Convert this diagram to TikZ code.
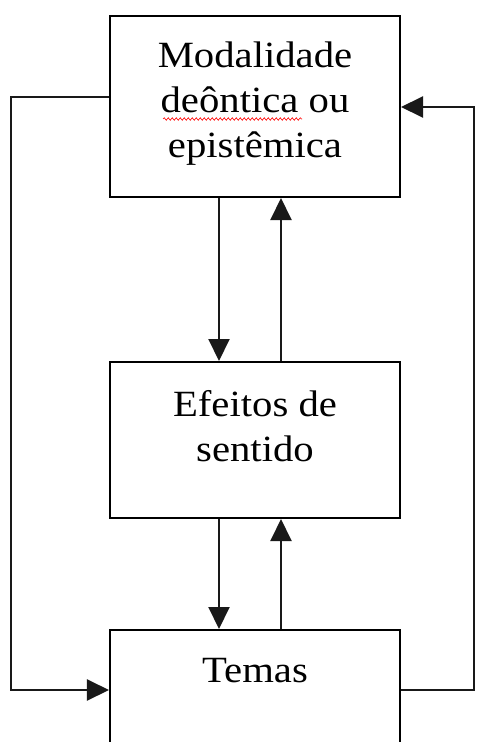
\documentclass[tikz,border=0pt]{standalone}
\usepackage{fontspec}
\setmainfont{Liberation Serif}[FakeStretch=1.1]
\usetikzlibrary{arrows.meta,decorations.pathmorphing}
\begin{document}
\begin{tikzpicture}[x=1bp,y=-1bp,
  box/.style={draw=black, line width=2bp, minimum width=290bp, inner sep=0pt, fill=white},
  lbl/.style={font=\fontsize{37bp}{45bp}\selectfont, align=center, inner sep=0pt},
  conn/.style={line width=2bp, draw=black!90},
  arr/.style={conn, -{Triangle[length=22bp,width=21bp]}}]
\useasboundingbox (0,0) rectangle (504,742);
\clip (0,0) rectangle (504,742);
\fill[white] (0,0) rectangle (504,742);
% boxes
\node[box, minimum height=181bp] (mod) at (255,106.5) {};
\node[box, minimum height=156bp] (mid) at (255,440) {};
\node[box, minimum height=140bp] (tem) at (255,700) {};
% texts
\node[lbl, anchor=north] (modt) at (255,41.5) {Modalidade\\deôntica ou\\epistêmica};
\node[lbl, anchor=north] (midt) at (255,390.5) {Efeitos de\\sentido};
\node[lbl, anchor=base] (temt) at (255,682) {Temas};
% spell-check underline
\draw[red, line width=0.6bp, decorate, decoration={snake, amplitude=1.3bp, segment length=4bp}] (163,119) -- (302,119);
% vertical connectors
\draw[arr] ([xshift=-36bp]mod.south) -- ([xshift=-36bp]mid.north);
\draw[arr] ([xshift=26bp]mid.north) -- ([xshift=26bp]mod.south);
\draw[arr] ([xshift=-36bp]mid.south) -- ([xshift=-36bp]tem.north);
\draw[arr] ([xshift=26bp]tem.north) -- ([xshift=26bp]mid.south);
% loops
\draw[arr] ([yshift=9.5bp]mod.west) -- ++(-98,0) |- ([yshift=10bp]tem.west);
\draw[arr] ([yshift=10bp]tem.east) -- ++(73,0) |- ([yshift=-0.5bp]mod.east);
\end{tikzpicture}
\end{document}
